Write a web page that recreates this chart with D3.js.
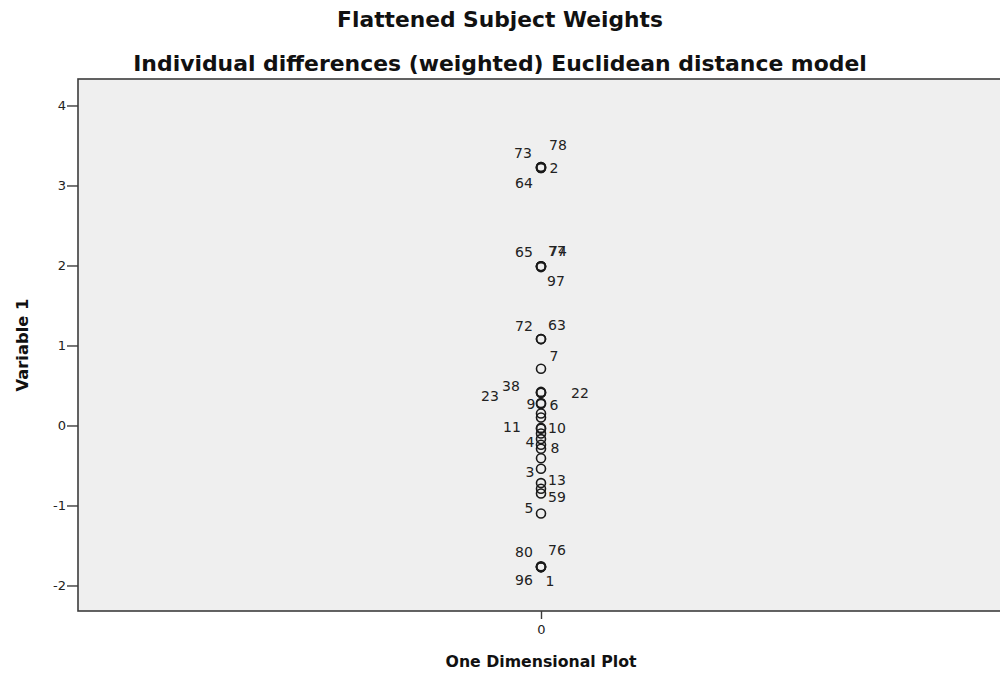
<!DOCTYPE html>
<html>
<head>
<meta charset="utf-8">
<script src="https://cdn.jsdelivr.net/npm/d3@7/dist/d3.min.js"></script>
<style>
  html, body { margin: 0; padding: 0; background: #ffffff; }
  svg { display: block; font-family: "DejaVu Sans", Verdana, sans-serif; }
</style>
</head>
<body>
<svg id="chart" width="1000" height="679"></svg>
<script>
// ---- data ----
const subjectLabels = ["73","78","2","64",
                       "65","77","74","97",
                       "72","63",
                       "7",
                       "38","23","22",
                       "9","6",
                       "","",
                       "11","10",
                       "",
                       "4","8",
                       "","",
                       "3",
                       "13","",
                       "59",
                       "5",
                       "80","76","96","1"];
const dimensionValues = [0,0,0,0, 0,0,0,0, 0,0, 0, 0,0,0, 0,0, 0,0, 0,0, 0, 0,0, 0,0, 0, 0,0, 0, 0, 0,0,0,0];
const variable1Values = [3.23,3.23,3.22,3.22,
                         1.99,1.99,1.99,1.98,
                         1.08,1.08,
                         0.71,
                         0.42,0.41,0.41,
                         0.28,0.27,
                         0.15,0.10,
                         -0.03,-0.04,
                         -0.10,
                         -0.17,-0.24,
                         -0.29,-0.41,
                         -0.54,
                         -0.72,-0.79,
                         -0.85,
                         -1.10,
                         -1.77,-1.77,-1.77,-1.76];
const yTicks = [-2,-1,0,1,2,3,4];
const xTicks = [0];
const titleLines = ["Flattened Subject Weights", "Individual differences (weighted) Euclidean distance model"];
const xTitle = "One Dimensional Plot";
const yTitle = "Variable 1";

// ---- label placement (annotation layout, relative to point) ----
const labelOffsets = {
  "73":[-18,-14], "78":[17,-22], "2":[13,0], "64":[-17,15],
  "65":[-17,-14], "77":[16,-15], "74":[17,-15], "97":[15,14],
  "72":[-17,-13], "63":[16,-14],
  "7":[13,-13],
  "38":[-30,-6], "23":[-51,3], "22":[39,0],
  "9":[-10,1], "6":[13,1],
  "11":[-29,-1], "10":[16,-1],
  "4":[-11,3], "8":[14,3],
  "3":[-11,3], "13":[16,-3], "59":[16,4], "5":[-12,-5],
  "80":[-17,-15], "76":[16,-17], "96":[-17,13], "1":[9,15]
};

// ---- layout ----
const plot = {left: 78, top: 79, right: 1004, bottom: 611};
const svg = d3.select("#chart");

const x = d3.scaleLinear().domain([-1, 1]).range([plot.left, plot.right]);
const y = d3.scaleLinear().domain([-2.319, 4.331]).range([plot.bottom, plot.top]);
const fmt = d => String(d);   // plain hyphen minus as in the reference

// plot background
svg.append("rect")
  .attr("x", plot.left).attr("y", plot.top)
  .attr("width", plot.right - plot.left).attr("height", plot.bottom - plot.top)
  .attr("fill", "#efefef")
  .attr("stroke", "#3c3c3c").attr("stroke-width", 1.6);

// y axis
const yAxis = svg.append("g")
  .attr("transform", `translate(${plot.left},0)`)
  .call(d3.axisLeft(y).tickValues(yTicks).tickSize(11).tickPadding(1).tickFormat(fmt));
yAxis.select(".domain").remove();
yAxis.selectAll("line").attr("stroke", "#3c3c3c").attr("stroke-width", 1.4);
yAxis.selectAll("text").attr("font-size", 13).attr("fill", "#222")
  .attr("font-family", "DejaVu Sans, Verdana, sans-serif");

// x axis
const xAxis = svg.append("g")
  .attr("transform", `translate(0,${plot.bottom})`)
  .call(d3.axisBottom(x).tickValues(xTicks).tickSize(8).tickPadding(6).tickFormat(fmt));
xAxis.select(".domain").remove();
xAxis.selectAll("line").attr("stroke", "#3c3c3c").attr("stroke-width", 1.4);
xAxis.selectAll("text").attr("font-size", 13).attr("fill", "#222")
  .attr("font-family", "DejaVu Sans, Verdana, sans-serif");

// helper: fit bold text to the width it occupies in the reference
function fitted(sel, targetWidth) {
  const w = sel.node().getComputedTextLength();
  const fs = parseFloat(sel.attr("font-size"));
  sel.attr("font-size", (fs * targetWidth / w).toFixed(2));
  return sel;
}

// titles
fitted(svg.append("text").text(titleLines[0])
  .attr("x", 500).attr("y", 27)
  .attr("text-anchor", "middle").attr("font-weight", "bold").attr("font-size", 18).attr("fill", "#111"), 326);
fitted(svg.append("text").text(titleLines[1])
  .attr("x", 500).attr("y", 71)
  .attr("text-anchor", "middle").attr("font-weight", "bold").attr("font-size", 18).attr("fill", "#111"), 734);

// axis titles
fitted(svg.append("text").text(xTitle)
  .attr("x", 541).attr("y", 667)
  .attr("text-anchor", "middle").attr("font-weight", "bold").attr("font-size", 15).attr("fill", "#111"), 191);
fitted(svg.append("text").text(yTitle)
  .attr("transform", `translate(28,${(plot.top + plot.bottom) / 2}) rotate(-90)`)
  .attr("text-anchor", "middle").attr("font-weight", "bold").attr("font-size", 15).attr("fill", "#111"), 93);

// points
const pts = subjectLabels.map((lab, i) => ({lab, dim: dimensionValues[i], v: variable1Values[i]}));
svg.append("g").selectAll("circle").data(pts).join("circle")
  .attr("cx", d => x(d.dim)).attr("cy", d => y(d.v)).attr("r", 4.5)
  .attr("fill", "none").attr("stroke", "#1a1a1a").attr("stroke-width", 1.6);

// labels
svg.append("g").selectAll("text").data(pts.filter(d => d.lab !== "")).join("text")
  .attr("x", d => x(d.dim) + (labelOffsets[d.lab] || [12, 0])[0])
  .attr("y", d => y(d.v) + (labelOffsets[d.lab] || [12, 0])[1])
  .attr("text-anchor", "middle").attr("dominant-baseline", "central")
  .attr("font-size", 14).attr("fill", "#222")
  .text(d => d.lab);
</script>
</body>
</html>
